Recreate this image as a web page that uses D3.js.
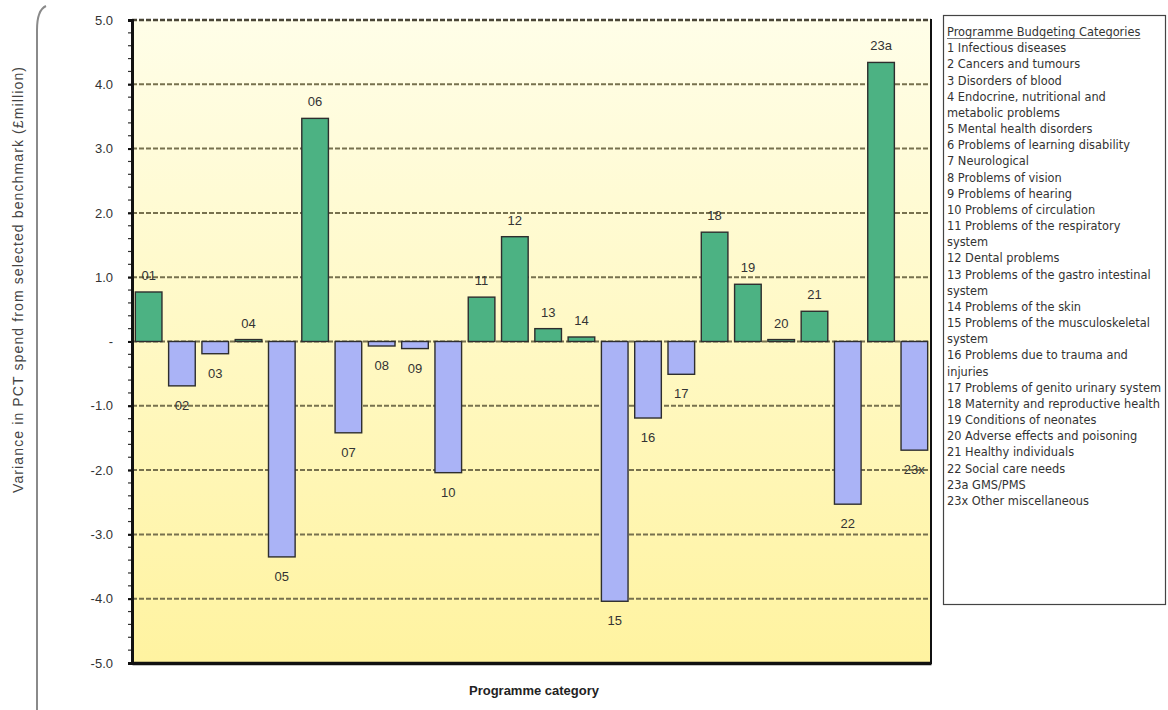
<!DOCTYPE html>
<html><head><meta charset="utf-8">
<script src="https://cdn.jsdelivr.net/npm/d3@7"></script>
<style>body{margin:0;background:#fff;} svg{display:block;}</style>
</head><body>
<svg id="chart" width="1168" height="710"></svg>
<script>
const categories = ["01","02","03","04","05","06","07","08","09","10","11","12","13","14","15","16","17","18","19","20","21","22","23a","23x"];
const values = [0.77,-0.69,-0.19,0.03,-3.35,3.47,-1.42,-0.07,-0.11,-2.04,0.69,1.63,0.20,0.07,-4.04,-1.19,-0.51,1.70,0.89,0.03,0.47,-2.53,4.34,-1.69];
const yTicks = [5,4,3,2,1,0,-1,-2,-3,-4,-5];
const yTickLabels = ["5.0","4.0","3.0","2.0","1.0","-","-1.0","-2.0","-3.0","-4.0","-5.0"];
const legendTitle = "Programme Budgeting Categories";
const legendLines = ["1 Infectious diseases","2 Cancers and tumours","3 Disorders of blood","4 Endocrine, nutritional and","metabolic problems","5 Mental health disorders","6 Problems of learning disability","7 Neurological","8 Problems of vision","9 Problems of hearing","10 Problems of circulation","11 Problems of the respiratory","system","12 Dental problems","13 Problems of the gastro intestinal","system","14 Problems of the skin","15 Problems of the musculoskeletal","system","16 Problems due to trauma and","injuries","17 Problems of genito urinary system","18 Maternity and reproductive health","19 Conditions of neonates","20 Adverse effects and poisoning","21 Healthy individuals","22 Social care needs","23a GMS/PMS","23x Other miscellaneous"];
const yTitle = "Variance in PCT spend from selected benchmark  (\u00a3million)";
const xTitle = "Programme category";

const svg = d3.select("#chart");
const L = 132, R = 931, T = 20, B = 663;
const x = d3.scaleBand().domain(categories).range([L, R]).paddingInner(0.2).paddingOuter(0.1);
const y = d3.scaleLinear().domain([-5, 5]).range([B, T]);

// background gradient
const defs = svg.append("defs");
const grad = defs.append("linearGradient").attr("id","bg").attr("x1",0).attr("y1",0).attr("x2",0).attr("y2",1);
grad.append("stop").attr("offset","0%").attr("stop-color","#fffee8");
grad.append("stop").attr("offset","100%").attr("stop-color","#fff3a0");
svg.append("rect").attr("x",L).attr("y",T).attr("width",R-L).attr("height",B-T).attr("fill","url(#bg)");

// left bracket line
svg.append("path").attr("d","M46,6 Q37,10 37,30 L37,710").attr("fill","none").attr("stroke","#8a8a8a").attr("stroke-width",2);

// gridlines
svg.append("g").selectAll("line").data(yTicks.filter(d=>d>-5)).join("line")
  .attr("x1",L).attr("x2",R).attr("y1",d=>y(d)).attr("y2",d=>y(d))
  .attr("stroke",d=>d===5?"#4a4636":"#77714e").attr("stroke-width",d=>d===5?2.5:2)
  .attr("stroke-dasharray","5,2");

// bars
svg.append("g").selectAll("rect").data(values).join("rect")
  .attr("x",(d,i)=>x(categories[i]))
  .attr("width",x.bandwidth())
  .attr("y",d=>y(Math.max(0,d)))
  .attr("height",d=>Math.abs(y(d)-y(0)))
  .attr("fill",d=>d>=0?"#4cb283":"#aab3f6")
  .attr("stroke","#2e2e2e").attr("stroke-width",1.4);

// bar labels
svg.append("g").selectAll("text").data(values).join("text")
  .attr("x",(d,i)=>x(categories[i])+x.bandwidth()/2)
  .attr("y",d=>d>=0?y(d)-12:y(d)+24)
  .attr("text-anchor","middle")
  .attr("font-family","Liberation Sans, Arial, sans-serif").attr("font-size",13)
  .attr("fill","#333")
  .text((d,i)=>categories[i]);

// right border
svg.append("line").attr("x1",R).attr("x2",R).attr("y1",T-1).attr("y2",B+1).attr("stroke","#111").attr("stroke-width",2);

// y axis
const minor = d3.range(-5,5.001,0.2);
svg.append("g").selectAll("line").data(minor).join("line")
  .attr("x1",L-4).attr("x2",L).attr("y1",d=>y(d)).attr("y2",d=>y(d))
  .attr("stroke","#333").attr("stroke-width",1.2);
const yAxis = d3.axisLeft(y).tickValues(yTicks).tickFormat((d,i)=>yTickLabels[i]).tickSize(4).tickPadding(15);
const gy = svg.append("g").attr("transform",`translate(${L},0)`).call(yAxis);
gy.select(".domain").attr("stroke","#111").attr("stroke-width",3);
gy.selectAll(".tick line").attr("stroke","#111").attr("stroke-width",2);
gy.selectAll(".tick text").attr("font-family","Liberation Sans, Arial, sans-serif").attr("font-size",13).attr("fill","#333");

// x axis
const xAxis = d3.axisBottom(x).tickSize(0).tickFormat("");
const gx = svg.append("g").attr("transform",`translate(0,${B})`).call(xAxis);
gx.select(".domain").attr("stroke","#111").attr("stroke-width",3.5);

// titles
svg.append("text").attr("x",534).attr("y",695).attr("text-anchor","middle")
  .attr("font-family","Liberation Sans, Arial, sans-serif").attr("font-size",13).attr("font-weight","bold").attr("fill","#222").text(xTitle);
svg.append("text").attr("transform","translate(23,280) rotate(-90)").attr("text-anchor","middle")
  .attr("font-family","Liberation Sans, Arial, sans-serif").attr("font-size",14)
  .attr("textLength",426).attr("lengthAdjust","spacing")
  .attr("fill","#444").text(yTitle);

// legend
const lg = svg.append("g");
lg.append("rect").attr("x",943.5).attr("y",15.5).attr("width",222).attr("height",589).attr("fill","#fff").attr("stroke","#444").attr("stroke-width",1.2);
const fs = 11.4, lh = 16.17;
const tt = lg.append("text").attr("x",947).attr("y",36).attr("font-family","DejaVu Sans, sans-serif").attr("font-size",fs).attr("fill","#333").text(legendTitle);
lg.append("line").attr("x1",947).attr("y1",38.5).attr("x2",947+tt.node().getComputedTextLength()).attr("y2",38.5).attr("stroke","#555").attr("stroke-width",0.8);
lg.selectAll("text.item").data(legendLines).join("text").attr("class","item")
  .attr("x",947).attr("y",(d,i)=>36+(i+1)*lh)
  .attr("font-family","DejaVu Sans, sans-serif").attr("font-size",fs).attr("fill","#333").text(d=>d);
</script>
</body></html>
